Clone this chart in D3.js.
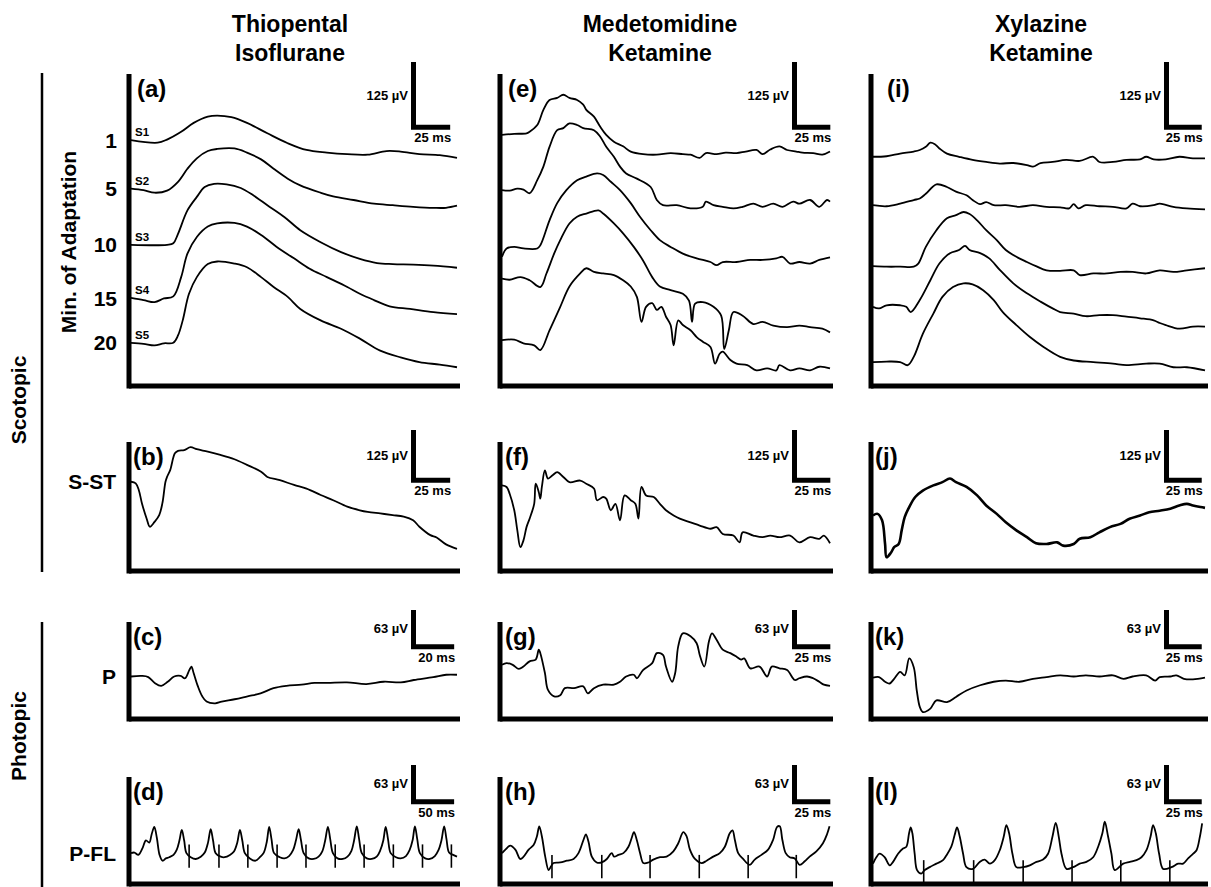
<!DOCTYPE html>
<html><head><meta charset="utf-8">
<script src="https://cdn.jsdelivr.net/npm/d3@7"></script>
<style>
body{margin:0;background:#fff}
svg{display:block}
text{font-family:"Liberation Sans",Arial,Helvetica,sans-serif;font-weight:bold;fill:#000}
</style>
</head><body>
<svg id="chart" width="1211" height="887"></svg>
<script>
// ---------------- DATA (time in ms, amplitude in µV) ----------------
const colTitles = [["Thiopental","Isoflurane"],["Medetomidine","Ketamine"],["Xylazine","Ketamine"]];
const panelLetters = [["a","b","c","d"],["e","f","g","h"],["i","j","k","l"]];
const adaptMinutes = ["1","5","10","15","20"];
const stimIds = ["S1","S2","S3","S4","S5"];
const rowLabels = ["S-ST","P","P-FL"];
const groupLabels = ["Scotopic","Photopic"];
const adaptAxisLabel = "Min. of Adaptation";
const barUV = [125,125,63,63];
const barMs = [[25,25,20,50],[25,25,25,25],[25,25,25,25]];
const spanMs = [[208,208,151,378],[214,214,214,214],[220,220,220,220]];
const spanUV = [594,315,162,179];

// (a) Thiopental / Isoflurane, scotopic adaptation series
const a_S1 = [[0,0],[17,-5],[23,1],[32,16],[40,33],[49,45],[55,47],[64,44],[74,33],[87,13],[100,-6],[112,-19],[125,-24],[138,-27],[151,-28],[163,-21],[172,-22],[184,-27],[197,-29],[208,-34]];
const a_S2 = [[0,0],[8,-3],[15,-8],[23,-4],[30,13],[36,38],[42,58],[49,72],[55,76],[66,77],[74,69],[83,56],[91,38],[100,19],[108,6],[121,-8],[129,-15],[142,-22],[155,-29],[167,-32],[180,-35],[193,-37],[201,-37],[208,-33]];
const a_S3 = [[0,0],[23,0],[27,3],[30,21],[36,66],[42,92],[47,111],[53,117],[61,116],[70,109],[78,95],[87,76],[98,53],[108,28],[121,5],[134,-14],[146,-27],[157,-35],[167,-37],[180,-38],[193,-40],[208,-44]];
const a_S4 = [[0,0],[8,-4],[15,-8],[21,-1],[27,3],[32,40],[36,85],[42,117],[49,137],[55,143],[66,144],[74,137],[83,121],[93,98],[104,76],[114,56],[125,40],[138,21],[146,8],[155,-4],[165,-16],[178,-21],[193,-27],[208,-31]];
const a_S5 = [[0,0],[8,-2],[15,-5],[21,-1],[27,0],[30,14],[33,43],[37,94],[42,126],[49,151],[55,156],[66,152],[74,145],[83,126],[91,107],[100,88],[108,65],[121,43],[134,27],[146,8],[159,-15],[172,-28],[184,-37],[197,-42],[208,-47]];
const a_offsets = [471,378,270,168,82];

// (e) Medetomidine / Ketamine
const e_S1 = [[0,0],[8,2],[16,3],[18,6],[23,19],[27,48],[31,67],[36,71],[40,77],[44,71],[49,67],[53,58],[55,48],[60,35],[64,16],[68,0],[73,-13],[79,-22],[84,-32],[92,-37],[101,-38],[110,-35],[118,-37],[123,-38],[129,-44],[133,-35],[140,-37],[146,-34],[153,-35],[159,-32],[166,-29],[170,-37],[175,-28],[181,-22],[186,-29],[192,-32],[196,-34],[203,-35],[209,-38],[214,-32]];
const e_S2 = [[0,0],[5,-1],[10,3],[14,1],[18,-6],[23,19],[27,45],[31,83],[36,115],[40,119],[44,128],[49,125],[53,119],[60,115],[64,103],[68,83],[73,64],[77,45],[81,32],[88,22],[97,6],[101,-19],[105,-29],[114,-29],[123,-35],[131,-32],[133,-22],[138,-29],[144,-32],[151,-35],[157,-32],[164,-26],[170,-32],[177,-26],[183,-32],[190,-22],[194,-26],[201,-19],[207,-32],[212,-19],[214,-22]];
const e_S3 = [[0,-16],[3,0],[8,3],[14,0],[23,0],[25,6],[31,54],[36,87],[42,112],[49,131],[55,138],[62,144],[66,141],[71,128],[77,112],[84,87],[90,61],[97,35],[103,16],[110,3],[118,-10],[127,-19],[136,-26],[140,-32],[144,-26],[153,-26],[162,-22],[170,-22],[179,-19],[183,-16],[188,-29],[194,-26],[201,-29],[207,-22],[214,-17]];
const e_S4 = [[0,0],[5,-2],[12,3],[18,-3],[25,-16],[29,10],[34,48],[38,74],[44,106],[49,119],[55,125],[63,131],[66,125],[73,106],[79,87],[86,61],[92,35],[98,3],[103,-15],[110,-22],[118,-29],[122,-42],[124,-83],[126,-48],[131,-45],[138,-54],[143,-71],[145,-135],[148,-99],[151,-64],[157,-71],[164,-87],[170,-83],[177,-90],[186,-93],[194,-90],[201,-93],[209,-96],[214,-103]];
const e_S5 = [[0,0],[8,1],[14,-6],[21,-10],[25,-19],[31,19],[38,64],[44,103],[51,128],[55,138],[60,131],[66,128],[73,125],[79,115],[84,103],[88,83],[91,35],[94,64],[98,71],[101,58],[104,64],[107,45],[110,29],[112,-10],[115,38],[118,29],[123,19],[127,6],[131,-3],[136,-13],[139,-45],[142,-26],[144,-22],[149,-38],[153,-45],[160,-48],[166,-58],[173,-54],[179,-58],[181,-48],[188,-58],[194,-54],[201,-58],[207,-51],[214,-54]];
const e_offsets = [481,375,263,205,87];

// (i) Xylazine / Ketamine
const i_S1 = [[0,0],[9,1],[18,6],[27,10],[31,13],[35,19],[38,27],[41,24],[44,16],[49,6],[57,0],[66,-6],[75,-10],[84,-13],[93,-12],[102,-16],[106,-19],[111,-12],[119,-10],[128,-6],[137,-8],[146,0],[150,-10],[159,-10],[168,-6],[177,-5],[181,0],[186,-5],[194,-5],[203,0],[212,-3],[220,-3]];
const i_S2 = [[0,0],[9,-2],[18,3],[27,10],[31,13],[35,22],[42,40],[49,35],[55,26],[62,19],[66,10],[71,2],[75,6],[80,0],[88,0],[97,-3],[106,0],[115,-3],[124,-4],[130,-6],[133,2],[136,-6],[141,0],[150,-2],[159,-3],[168,-6],[172,3],[177,-2],[186,0],[190,3],[199,-3],[208,-6],[220,-8]];
const i_S3 = [[0,0],[9,-1],[18,-1],[27,-1],[30,5],[35,37],[42,69],[49,92],[55,98],[60,104],[64,100],[69,88],[75,69],[82,50],[88,31],[95,18],[102,8],[108,0],[115,-8],[124,-9],[133,-8],[137,-17],[146,-14],[155,-14],[164,-11],[172,-11],[181,-14],[190,-8],[199,-11],[208,-8],[220,-4]];
const i_S4 = [[0,0],[4,-3],[9,3],[18,3],[22,0],[25,-10],[31,13],[38,51],[44,83],[51,103],[57,109],[61,117],[64,109],[71,103],[77,93],[84,71],[93,45],[102,26],[111,10],[119,-3],[124,-10],[133,-13],[141,-18],[150,-16],[159,-16],[168,-19],[177,-22],[186,-26],[190,-31],[194,-35],[203,-42],[212,-38],[220,-38]];
const i_S5 = [[0,0],[9,1],[18,0],[23,-6],[27,10],[33,54],[40,93],[46,125],[53,144],[60,151],[66,149],[73,138],[80,119],[86,96],[95,71],[104,48],[113,29],[124,10],[133,3],[146,0],[159,-3],[168,-6],[181,-3],[190,-3],[199,-10],[208,-10],[220,-16]];
const i_offsets = [439,346,229,151,45];

// (b,f,j) scotopic standard flash
const b_SST = [[0,0],[3,-4],[5,-21],[7,-54],[10,-92],[12,-112],[15,-100],[18,-83],[20,-54],[22,0],[23,12],[25,29],[28,71],[30,77],[34,79],[38,86],[42,81],[49,75],[57,67],[66,56],[74,42],[83,25],[87,12],[95,4],[104,-8],[112,-17],[121,-33],[129,-46],[138,-62],[146,-71],[151,-75],[159,-79],[167,-83],[174,-87],[180,-96],[184,-112],[191,-133],[195,-139],[201,-156],[208,-167]];
const f_SST = [[0,0],[3,-4],[5,-21],[8,-62],[10,-112],[12,-154],[14,-137],[16,-104],[18,-83],[21,-46],[22,4],[24,-17],[25,-33],[26,-4],[28,37],[30,17],[33,25],[36,33],[40,21],[44,8],[51,12],[55,4],[60,-8],[62,-37],[66,-29],[68,-33],[71,-62],[74,-46],[77,-87],[80,-25],[84,-37],[87,-46],[89,-83],[91,-4],[94,-25],[99,-29],[103,-46],[107,-62],[112,-75],[116,-83],[123,-92],[129,-100],[136,-108],[140,-104],[144,-121],[151,-125],[155,-142],[157,-117],[164,-125],[170,-129],[175,-125],[181,-129],[188,-125],[194,-142],[201,-129],[207,-133],[210,-125],[214,-144]];
const j_SST = [[0,0],[3,4],[6,-12],[8,-71],[9,-104],[12,-92],[14,-79],[17,-71],[19,-37],[21,-4],[24,21],[28,46],[33,62],[40,75],[46,83],[51,92],[55,83],[62,71],[69,50],[75,25],[82,4],[88,-17],[95,-37],[102,-54],[108,-69],[115,-71],[122,-67],[126,-75],[133,-71],[137,-58],[144,-54],[150,-42],[157,-29],[164,-21],[170,-8],[177,0],[183,8],[190,12],[197,17],[203,25],[208,29],[212,25],[217,21],[220,19]];
const sst_offsets = [221,212,137];

// (c,g,k) photopic single flash
const c_P = [[0,0],[5,1],[8,-1],[11,-11],[14,-16],[17,-9],[20,0],[23,1],[25,-3],[27,11],[28,17],[29,6],[31,-17],[33,-34],[35,-43],[39,-46],[42,-43],[48,-39],[54,-34],[60,-29],[66,-20],[72,-16],[79,-14],[85,-11],[91,-11],[100,-10],[109,-13],[117,-9],[125,-10],[131,-6],[140,-1],[146,3],[151,3]];
const g_P = [[0,0],[3,3],[7,0],[11,-7],[14,-3],[18,6],[22,9],[24,26],[25,20],[28,-14],[30,-43],[34,-54],[38,-52],[41,-40],[47,-40],[53,-37],[56,-49],[60,-40],[66,-34],[73,-34],[77,-29],[81,-20],[86,-17],[88,-23],[92,-9],[98,3],[101,20],[105,17],[107,-3],[111,-29],[113,-14],[115,32],[118,54],[123,49],[127,37],[129,17],[132,-3],[135,40],[137,54],[140,43],[144,26],[149,20],[153,14],[156,9],[158,11],[162,-6],[168,-3],[173,-20],[176,-3],[181,-6],[186,-9],[191,-26],[194,-23],[199,-20],[203,-23],[207,-29],[210,-34],[214,-36]];
const k_P = [[0,0],[4,1],[8,-7],[11,-10],[14,-2],[18,10],[21,4],[24,33],[27,18],[29,-22],[31,-50],[33,-59],[38,-53],[42,-39],[49,-42],[55,-33],[62,-22],[71,-13],[80,-7],[88,-5],[97,-7],[106,-2],[115,1],[124,4],[133,2],[141,4],[150,2],[159,4],[166,-2],[172,2],[181,4],[187,-5],[190,1],[197,2],[201,4],[206,-2],[212,-3],[220,0]];
const p_offsets = [72,92,70];

// (d,h,l) photopic flicker
const d_PFL = [[0,0],[4,1],[8.5,-3],[13.5,9],[17.3,22],[21.2,18],[23.9,32],[27,45],[30,26],[33.1,-3],[36.6,-13],[40.4,-9],[44.3,-7],[49.3,-3],[53.1,6],[56.2,22],[58.9,40],[61.6,22],[64.3,0],[69.3,-7],[75.1,-10],[80.9,-6],[85.5,1],[89.3,18],[92.4,41],[95.1,22],[98.2,0],[104,-6],[108.6,-7],[114.7,-3],[119.4,3],[123.2,18],[126.3,40],[129,22],[132,0],[137.8,-9],[144.4,-13],[149.4,-7],[154,1],[157.5,20],[160.2,45],[162.9,24],[165.9,0],[172.5,-7],[177.9,-9],[183.3,-5],[187.9,5],[191.3,22],[194.4,41],[197.1,22],[200.2,0],[206,-9],[211.8,-10],[217.5,-6],[221.8,3],[225.2,22],[228.3,45],[231,24],[234.1,0],[239.5,-9],[245.6,-10],[251,-6],[255.6,4],[258.7,22],[261.8,46],[264.5,24],[267.6,0],[273.4,-9],[279.1,-10],[284.9,-6],[289.1,5],[292.6,22],[295.3,45],[298,24],[301.1,0],[307.2,-7],[312.6,-9],[318.8,-5],[323,5],[326.5,22],[329.2,46],[331.9,24],[335,0],[341.1,-9],[346.5,-10],[352.3,-5],[356.5,5],[360,22],[363.1,46],[365.8,24],[368.8,1],[373.5,-3],[378,-6]];
const h_PFL = [[0,0],[2.2,6],[5.4,13],[8.7,6],[11.9,-10],[14.1,-6],[17.4,6],[20.6,14],[22.8,29],[24.3,46],[26,29],[28.2,-6],[30.4,-29],[31.9,-23],[33.6,-17],[38,-16],[42.3,-13],[46.7,-10],[49.9,0],[53.2,23],[54.7,32],[56.4,20],[58.6,-6],[61.8,-16],[65.1,-16],[68.4,-10],[71.6,0],[73.1,-6],[76,-3],[79.2,0],[82.5,11],[84.6,26],[86.1,36],[87.9,23],[90.1,0],[92.2,-17],[95.5,-16],[98.7,-11],[103.1,-7],[107.4,-6],[111.8,3],[115,17],[118.3,36],[120.4,29],[122.6,6],[125.9,-10],[130.2,-17],[133.5,-13],[137.8,-6],[142.1,0],[145.4,11],[148.6,34],[150.4,39],[151.9,23],[154.1,0],[157.3,-10],[161.7,-20],[164.9,-11],[169.3,-3],[173.6,6],[176.9,23],[179.5,45],[181.2,46],[182.9,23],[185.1,0],[187.7,-7],[191,-9],[194.2,-20],[197.5,-14],[200.7,-6],[205.1,3],[209.4,17],[212,32],[213.7,46]];
const l_PFL = [[0,0],[2.2,11],[4.4,17],[7.7,11],[11.1,-3],[13.3,3],[16.6,17],[19.9,26],[22.1,29],[23.9,52],[25,62],[26.1,52],[27.6,17],[29.2,-11],[32,-17],[34.3,-11],[37.6,-6],[42,0],[46.4,6],[48.6,14],[51.9,29],[54.1,49],[55.7,62],[57.5,46],[59.7,17],[61.9,-6],[66.3,-9],[70.7,3],[74,7],[77.4,0],[80.7,6],[84,23],[86.6,46],[88.4,66],[90.2,52],[92.4,17],[95,-6],[99.5,-6],[103.9,-3],[108.3,3],[112.7,7],[116,17],[118.9,46],[121.1,70],[123.1,46],[124.9,17],[128.2,-9],[132.6,-6],[137,0],[141.4,3],[145.9,11],[149.2,29],[152,52],[153.6,72],[155.8,46],[158,17],[160.2,-11],[165.8,0],[170.2,3],[174.6,6],[177.9,11],[181.2,23],[183.9,46],[185.6,66],[187.4,52],[189.6,17],[192.3,-9],[197.8,-6],[202.2,0],[205.5,0],[208.8,9],[212.2,17],[214.4,23],[216.6,46],[218.1,69]];
const pfl_offsets = [52,52,34];
const d_flash = [67.4,102,135.5,169.4,202.9,236.8,270.3,304.2,338,371.5];
const h_flash = [32.6,65.1,96.6,128.7,160.6,192];
const l_flash = [33.6,66.7,99.5,131.9,164.2,196.7];

// ---------------- LAYOUT ----------------
const W = 1211, H = 887;
const colRange = [[131,457],[502,830],[873,1205]];
const rowRange = [[385.5,76],[570.5,444],[718.5,624],[883.5,779]];
const titleX = [290,660,1041];
const barAnchor = [46,38,41];
const letterDx = [[6,2,2,2],[6,3,3,3],[14,2,2,2]];
const flashSpan = [[15,-25],[-3,-43],[6,-34]];
const FONT = '"Liberation Sans",Arial,Helvetica,sans-serif';

const svg = d3.select("#chart");
svg.append("rect").attr("width",W).attr("height",H).attr("fill","#fff");

const cols = [
  {scot:[a_S1,a_S2,a_S3,a_S4,a_S5], scotOff:a_offsets, sst:b_SST, p:c_P, pfl:d_PFL, flash:d_flash},
  {scot:[e_S1,e_S2,e_S3,e_S4,e_S5], scotOff:e_offsets, sst:f_SST, p:g_P, pfl:h_PFL, flash:h_flash},
  {scot:[i_S1,i_S2,i_S3,i_S4,i_S5], scotOff:i_offsets, sst:j_SST, p:k_P, pfl:l_PFL, flash:l_flash}
];

// column titles
colTitles.forEach((t,ci)=>{
  const tx = svg.append("text").attr("x",titleX[ci]).attr("y",32).attr("text-anchor","middle")
    .style("font-size","23px");
  tx.append("tspan").attr("x",titleX[ci]).text(t[0]);
  tx.append("tspan").attr("x",titleX[ci]).attr("dy",28.5).text(t[1]);
});

function drawPanel(ci, ri, traces, offsets, opts){
  const [x0,x1] = colRange[ci];
  const [yb,yt] = rowRange[ri];
  const x = d3.scaleLinear().domain([0, spanMs[ci][ri]]).range([x0,x1]);
  const y = d3.scaleLinear().domain([0, spanUV[ri]]).range([yb,yt]);
  const g = svg.append("g");

  // axes (thick L-frame)
  g.append("g").attr("transform",`translate(${x0-2.5},0)`)
    .call(d3.axisLeft(y).ticks(0).tickSize(0).tickSizeOuter(0))
    .call(s=>s.select(".domain").attr("stroke","#000").attr("stroke-width",5).attr("stroke-linecap","square"));
  g.append("g").attr("transform",`translate(0,${yb})`)
    .call(d3.axisBottom(x).ticks(0).tickSize(0).tickSizeOuter(0))
    .call(s=>s.select(".domain").attr("stroke","#000").attr("stroke-width",5).attr("stroke-linecap","square"));

  // traces
  traces.forEach((tr,k)=>{
    const off = offsets[k];
    const line = d3.line().x(d=>x(d[0])).y(d=>y(d[1]+off)).curve(d3.curveCatmullRom.alpha(0.5));
    g.append("path").attr("d",line(tr)).attr("fill","none").attr("stroke","#000")
      .attr("stroke-width",opts.sw||1.8).attr("stroke-linejoin","round");
  });

  // flash markers
  if(opts.flash){
    const off = offsets[0];
    g.selectAll(null).data(opts.flash).join("line")
      .attr("x1",d=>x(d)).attr("x2",d=>x(d))
      .attr("y1",y(off+flashSpan[ci][0])).attr("y2",y(off+flashSpan[ci][1]))
      .attr("stroke","#000").attr("stroke-width",1.6);
  }

  // panel letter
  g.append("text").attr("x",x0+letterDx[ci][ri]).attr("y",yt+21)
    .style("font-size","24px").text(`(${panelLetters[ci][ri]})`);

  // scale bar
  const bx = x1 - barAnchor[ci];
  const barTop = yt - 14;
  const bh = y(0) - y(barUV[ri]);
  const bw = x(barMs[ci][ri]) - x(0);
  const cy = barTop + bh;
  g.append("path").attr("d",`M${bx+2.5},${barTop}V${cy}H${bx+bw}`)
    .attr("fill","none").attr("stroke","#000").attr("stroke-width",5).attr("stroke-linejoin","miter");
  g.append("text").attr("x",bx-3).attr("y",barTop+bh/2+5).attr("text-anchor","end")
    .style("font-size","13px").text(`${barUV[ri]} µV`);
  g.append("text").attr("x",bx+bw+1).attr("y",cy+15).attr("text-anchor","end")
    .style("font-size","13px").text(`${barMs[ci][ri]} ms`);

  return {x,y};
}

cols.forEach((c,ci)=>{
  const s0 = drawPanel(ci,0,c.scot,c.scotOff,{});
  if(ci===0){
    c.scotOff.forEach((off,k)=>{
      const yy = s0.y(off);
      svg.append("text").attr("x",117).attr("y",yy).attr("dy","0.36em").attr("text-anchor","end")
        .style("font-size","21px").text(adaptMinutes[k]);
      svg.append("text").attr("x",colRange[0][0]+4).attr("y",yy-4)
        .style("font-size","11.5px").text(stimIds[k]);
    });
  }
  const s1 = drawPanel(ci,1,[c.sst],[sst_offsets[ci]],{sw: ci===2?2.6:1.8});
  const s2 = drawPanel(ci,2,[c.p],[p_offsets[ci]],{});
  const s3 = drawPanel(ci,3,[c.pfl],[pfl_offsets[ci]],{flash:c.flash});
  if(ci===0){
    [[s1,sst_offsets[0]],[s2,p_offsets[0]],[s3,pfl_offsets[0]]].forEach(([s,off],k)=>{
      svg.append("text").attr("x",116).attr("y",s.y(off)).attr("dy","0.36em").attr("text-anchor","end")
        .style("font-size","21px").text(rowLabels[k]);
    });
  }
});

// Min. of Adaptation
svg.append("text").attr("transform","translate(76,242) rotate(-90)").attr("text-anchor","middle")
  .style("font-size","21px").text(adaptAxisLabel);

// group labels and brackets
const groups = [[73,572,400],[622,887,736]];
groups.forEach(([y1,y2,yc],k)=>{
  svg.append("line").attr("x1",42).attr("x2",42).attr("y1",y1).attr("y2",y2)
    .attr("stroke","#000").attr("stroke-width",2.5);
  svg.append("text").attr("transform",`translate(26,${yc}) rotate(-90)`).attr("text-anchor","middle")
    .style("font-size","21px").text(groupLabels[k]);
});
</script>
</body></html>
